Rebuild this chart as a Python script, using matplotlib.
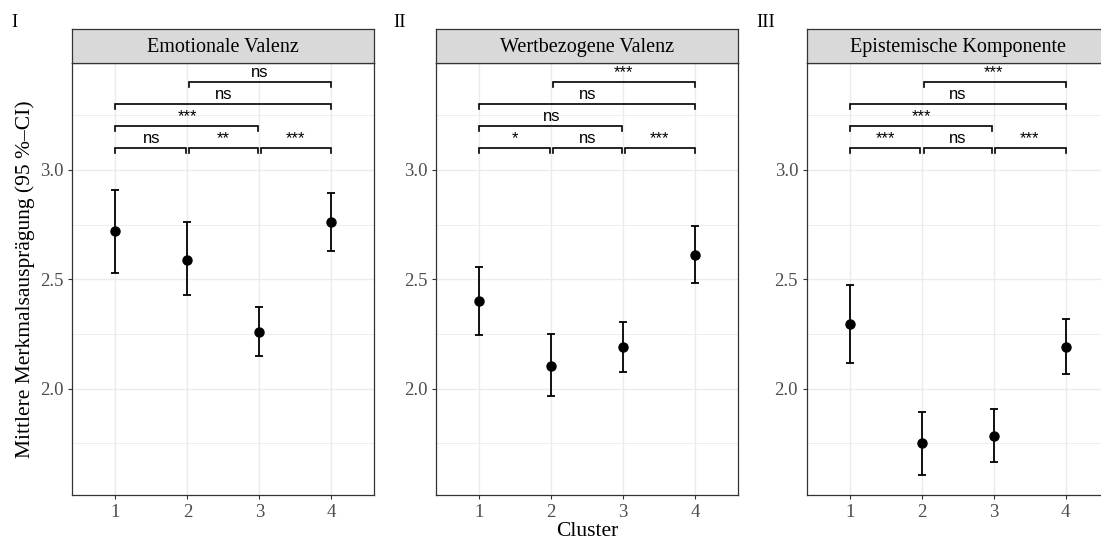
import numpy as np
import matplotlib.pyplot as plt
from matplotlib.ticker import FixedLocator

# cluster means with 95% confidence limits, one set per component
clusters = [1, 2, 3, 4]
titles = ['Emotionale Valenz', 'Wertbezogene Valenz', 'Epistemische Komponente']
panel_tags = ['I', 'II', 'III']

mean_emo = [2.72, 2.59, 2.26, 2.76]
lo_emo = [2.53, 2.43, 2.15, 2.63]
hi_emo = [2.91, 2.76, 2.375, 2.895]

mean_wert = [2.40, 2.105, 2.19, 2.61]
lo_wert = [2.245, 1.965, 2.078, 2.483]
hi_wert = [2.556, 2.249, 2.306, 2.742]

mean_epi = [2.294, 1.75, 1.784, 2.192]
lo_epi = [2.116, 1.607, 1.662, 2.067]
hi_epi = [2.474, 1.895, 1.906, 2.319]

# pairwise comparisons drawn as brackets above the points
pairs = [(1, 2), (2, 3), (3, 4), (1, 3), (1, 4), (2, 4)]
bracket_y = [3.1, 3.1, 3.1, 3.2, 3.3, 3.4]
sig_emo = ['ns', '**', '***', '***', 'ns', 'ns']
sig_wert = ['*', 'ns', '***', 'ns', 'ns', '***']
sig_epi = ['***', 'ns', '***', '***', 'ns', '***']

means = [mean_emo, mean_wert, mean_epi]
lows = [lo_emo, lo_wert, lo_epi]
highs = [hi_emo, hi_wert, hi_epi]
sigs = [sig_emo, sig_wert, sig_epi]

plt.rcParams['font.family'] = ['Liberation Serif', 'DejaVu Serif']

W, H = 1101, 541
fig = plt.figure(figsize=(W / 100, H / 100), dpi=100)


def rect(left, top, width, height):
    return [left / W, 1 - (top + height) / H, width / W, height / H]


lefts = [72.3, 436.2, 806.7]
pw = 302
ptop, ph = 62.7, 432.6
stop, sh = 29.3, 33.4
dark = '#333333'

for k in range(3):
    ax = fig.add_axes(rect(lefts[k], ptop, pw, ph))
    ax.set_xlim(0.4, 4.6)
    ax.set_ylim(1.512, 3.49)
    ax.set_xticks(clusters)
    ax.set_xticklabels([str(c) for c in clusters])
    ax.set_yticks([2.0, 2.5, 3.0])
    ax.set_yticklabels(['2.0', '2.5', '3.0'])
    ax.yaxis.set_minor_locator(FixedLocator([1.75, 2.25, 2.75, 3.25]))
    ax.tick_params(which='major', length=3.2, width=0.8, color=dark,
                   labelsize=13.5, labelcolor='#4D4D4D', pad=3)
    ax.tick_params(which='minor', length=0)
    ax.grid(which='major', color='#EBEBEB', lw=1.0)
    ax.grid(which='minor', color='#EBEBEB', lw=0.6)
    ax.set_axisbelow(True)
    for s in ax.spines.values():
        s.set_color(dark)
        s.set_linewidth(0.9)

    m = np.array(means[k])
    err = [m - np.array(lows[k]), np.array(highs[k]) - m]
    ax.errorbar(clusters, m, yerr=err, fmt='o', color='black', ms=6.5,
                capsize=2.6, elinewidth=1.3, capthick=1.3, zorder=3)

    # significance brackets
    for (a, b), yb, lab in zip(pairs, bracket_y, sigs[k]):
        x0 = a + (0.025 if a > 1 else 0)
        x1 = b - (0.02 if b < 4 else 0)
        ax.plot([x0, x0, x1, x1], [yb - 0.021, yb, yb, yb - 0.021],
                color='black', lw=1.2, solid_joinstyle='miter', zorder=3)
        ax.text((a + b) / 2, yb + 0.023, lab, ha='center', va='baseline',
                fontsize=12, family='Liberation Sans')

    # facet strip
    sax = fig.add_axes(rect(lefts[k], stop, pw, sh))
    sax.set_facecolor('#D9D9D9')
    sax.set_xticks([])
    sax.set_yticks([])
    for s in sax.spines.values():
        s.set_color(dark)
        s.set_linewidth(0.9)
    sax.text(0.5, 0.47, titles[k], ha='center', va='center', fontsize=14.5,
             transform=sax.transAxes)

tag_x = [11.7, 393, 756]
for k in range(3):
    fig.text(tag_x[k] / W, 1 - 26.7 / H, panel_tags[k], ha='left',
             va='baseline', fontsize=13.5)

fig.text(25 / W, 1 - 279 / H, 'Mittlere Merkmalsausprägung (95 %–CI)',
         rotation=90, ha='center', va='center', fontsize=15.5)
fig.text(587 / W, 1 - 531 / H, 'Cluster', ha='center', va='center',
         fontsize=15.5)

fig.savefig('out.png', dpi=100)
